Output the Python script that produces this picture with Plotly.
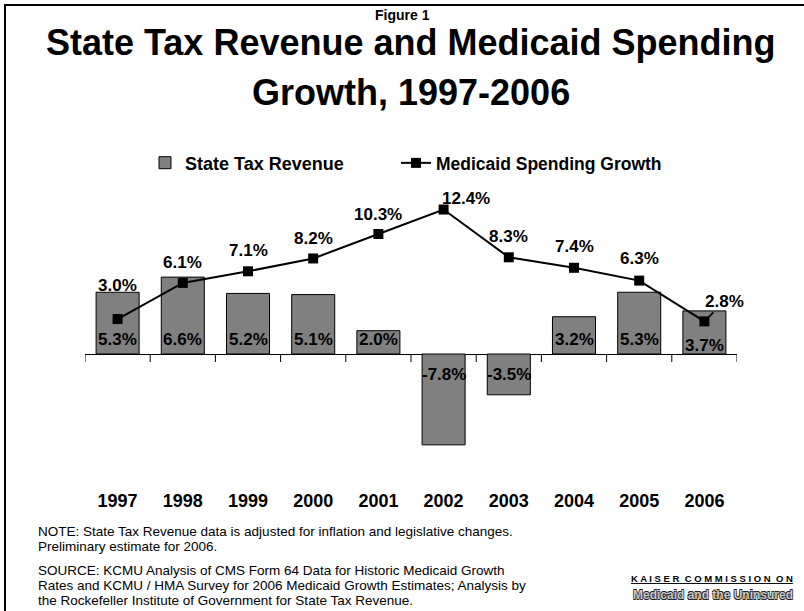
import plotly.graph_objects as go

years = ["1997", "1998", "1999", "2000", "2001", "2002", "2003", "2004", "2005", "2006"]
state_tax = [5.3, 6.6, 5.2, 5.1, 2.0, -7.8, -3.5, 3.2, 5.3, 3.7]
medicaid = [3.0, 6.1, 7.1, 8.2, 10.3, 12.4, 8.3, 7.4, 6.3, 2.8]

W, H = 804, 611
L, R, T, B = 85, 67, 180, 123
PW, PH = W - L - R, H - T - B
FONT = "Arial, Liberation Sans, sans-serif"


def px(x):
    return (x - L) / PW


def py(y):
    return (H - B - y) / PH


fig = go.Figure()
fig.add_trace(go.Bar(
    x=years, y=state_tax, name="State Tax Revenue", legend="legend",
    marker=dict(color="#808080", line=dict(color="#000000", width=1)),
    textposition="none",
))
fig.add_trace(go.Scatter(
    x=years, y=medicaid, name="Medicaid Spending Growth", mode="lines+markers",
    legend="legend2",
    line=dict(color="#000000", width=2),
    marker=dict(symbol="square", size=10, color="#000000"),
))

annotations = []
lab_font = dict(family=FONT, size=17, color="#000000", weight="bold")
# line labels (x given as category index so numeric-looking names are not misread)
line_xshift = [0, 0, 0, 0, 0, 22, 0, 0, 0, 0]
line_yshift = [34, 20, 21, 20, 20, 11, 21, 21, 22, 0]
for i, v in enumerate(medicaid):
    txt = f"{v:.1f}%"
    if i == len(years) - 1:
        annotations.append(dict(x=i, y=v, xref="x", yref="y", text=txt, showarrow=True,
                                arrowhead=0, arrowwidth=1.5, arrowcolor="#000000",
                                ax=20, ay=-20, standoff=0, font=lab_font))
    else:
        annotations.append(dict(x=i, y=v, xref="x", yref="y", text=txt, showarrow=False,
                                xshift=line_xshift[i], yshift=line_yshift[i], yanchor="middle",
                                font=lab_font))
# bar labels
for i, v in enumerate(state_tax):
    ys = 15 if v >= 0 else -20
    if i == len(years) - 1:
        ys = 9
    annotations.append(dict(x=i, y=0, xref="x", yref="y", text=f"{v:.1f}%", showarrow=False,
                            yshift=ys, yanchor="middle", font=lab_font))

# titles
annotations.append(dict(x=px(402), y=py(15), xref="paper", yref="paper", text="Figure 1",
                        showarrow=False, xanchor="center", yanchor="middle",
                        font=dict(family=FONT, size=14, color="#000000", weight="bold")))
annotations.append(dict(x=px(411), y=py(42), xref="paper", yref="paper",
                        text="State Tax Revenue and Medicaid Spending",
                        showarrow=False, xanchor="center", yanchor="middle",
                        font=dict(family=FONT, size=36, color="#000000", weight="bold")))
annotations.append(dict(x=px(411), y=py(93), xref="paper", yref="paper",
                        text="Growth, 1997-2006",
                        showarrow=False, xanchor="center", yanchor="middle",
                        font=dict(family=FONT, size=36, color="#000000", weight="bold")))

# notes
notes = [
    (531, "NOTE: State Tax Revenue data is adjusted for inflation and legislative changes."),
    (546, "Preliminary estimate for 2006."),
    (570, "SOURCE: KCMU Analysis of CMS Form 64 Data for Historic Medicaid Growth"),
    (585, "Rates and KCMU / HMA Survey for 2006 Medicaid Growth Estimates; Analysis by"),
    (600, "the Rockefeller Institute of Government for State Tax Revenue."),
]
for yy, txt in notes:
    annotations.append(dict(x=px(36), y=py(yy), xref="paper", yref="paper", text=txt,
                            showarrow=False, xanchor="left", yanchor="middle",
                            font=dict(family=FONT, size=13.5, color="#000000")))

annotations.append(dict(x=px(795), y=py(578), xref="paper", yref="paper",
                        text="K A I S E R  C O M M I S S I O N  O N",
                        showarrow=False, xanchor="right", yanchor="middle",
                        font=dict(family=FONT, size=9.5, color="#000000", weight="bold",
                                  lineposition="under")))
outline = ("-0.6px -0.6px 0 #222, 0.6px -0.6px 0 #222, "
           "-0.6px 0.6px 0 #222, 0.6px 0.6px 0 #222")
annotations.append(dict(x=px(795), y=py(595), xref="paper", yref="paper",
                        text="Medicaid and the Uninsured",
                        showarrow=False, xanchor="right", yanchor="middle",
                        font=dict(family=FONT, size=12, color="#c8c8c8", weight="bold",
                                  shadow=outline)))

shapes = []
# category boundary ticks below zero line
for k in range(len(years) + 1):
    shapes.append(dict(type="line", xref="x", yref="y", x0=k - 0.5, x1=k - 0.5,
                       ysizemode="pixel", yanchor=0, y0=0, y1=-8,
                       line=dict(color="#000000", width=1)))
# frame
shapes.append(dict(type="line", xref="paper", yref="paper", x0=px(4), x1=px(804),
                   y0=py(5), y1=py(5), line=dict(color="#000000", width=2)))
shapes.append(dict(type="line", xref="paper", yref="paper", x0=px(5), x1=px(5),
                   y0=py(5), y1=py(611), line=dict(color="#000000", width=2)))

zero_px = 354
scale = 11.65
legend_common = dict(orientation="h", yanchor="middle", xanchor="left",
                     bgcolor="rgba(0,0,0,0)")
fig.update_layout(
    width=W, height=H,
    margin=dict(l=L, r=R, t=T, b=B),
    paper_bgcolor="#ffffff", plot_bgcolor="#ffffff",
    bargap=0.34,
    showlegend=True,
    legend=dict(x=px(145), y=py(163),
                font=dict(family=FONT, size=18, color="#000000", weight="bold"),
                **legend_common),
    legend2=dict(x=px(396), y=py(163),
                 font=dict(family=FONT, size=17.5, color="#000000", weight="bold"),
                 **legend_common),
    xaxis=dict(type="category", showline=False, showgrid=False, ticks="",
               tickfont=dict(family=FONT, size=18, color="#000000", weight="bold"),
               range=[-0.5, len(years) - 0.5]),
    yaxis=dict(range=[-(H - B - zero_px) / scale, (zero_px - T) / scale],
               showgrid=False, showticklabels=False, ticks="", showline=False,
               zeroline=True, zerolinecolor="#000000", zerolinewidth=1),
    annotations=annotations,
    shapes=shapes,
)

fig.write_html("out.html")
